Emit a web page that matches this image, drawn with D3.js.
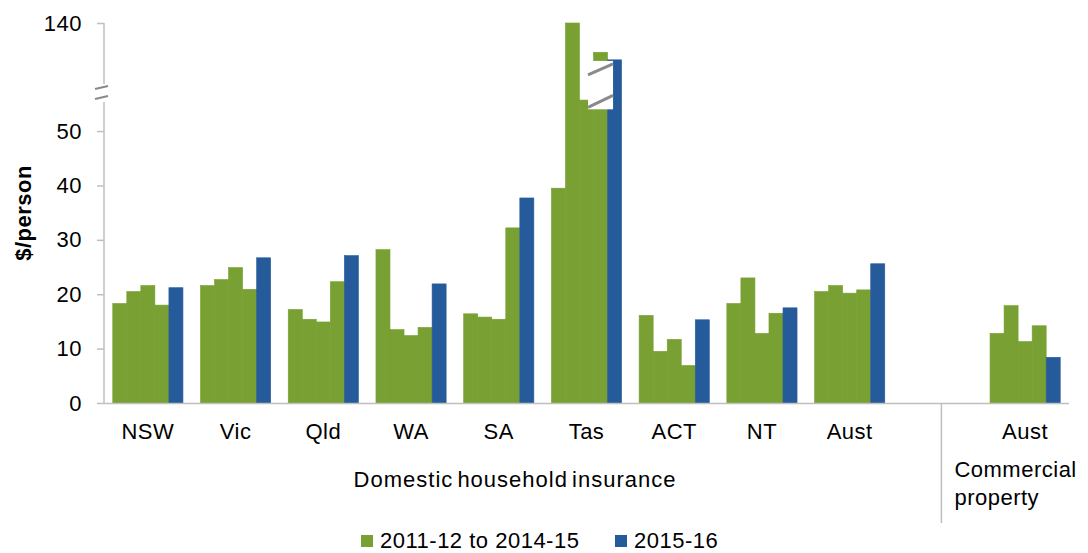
<!DOCTYPE html>
<html>
<head>
<meta charset="utf-8">
<script src="https://cdn.jsdelivr.net/npm/d3@7"></script>
<style>
  body { margin: 0; background: #fff; }
  text { font-family: 'Liberation Sans', Arial, sans-serif; fill: #000; }
</style>
</head>
<body>
<div id="chart"></div>
<script>
const categories = ['NSW', 'Vic', 'Qld', 'WA', 'SA', 'Tas', 'ACT', 'NT', 'Aust', '', 'Aust']
const keys = categories.map((c, i) => i)

// 2011-12 to 2014-15 (four green bars) and 2015-16 (blue)
const v2011_12 = [18.3, 21.6, 17.2, 28.2, 16.4, 39.5, 16.1, 18.3, 20.5, null, 12.8]
const v2012_13 = [20.5, 22.7, 15.4, 13.5, 15.8, 140.5, 9.5, 23.0, 21.6, null, 17.9]
const v2013_14 = [21.6, 24.9, 14.9, 12.4, 15.4, 55.7, 11.7, 12.8, 20.2, null, 11.3]
const v2014_15 = [18.0, 20.9, 22.3, 13.9, 32.2, 134.6, 6.9, 16.5, 20.8, null, 14.2]
const v2015_16 = [21.2, 26.7, 27.1, 21.9, 37.7, 133.2, 15.3, 17.5, 25.6, null, 8.4]

const yTicks = [0, 10, 20, 30, 40, 50, 140]
const legendLabels = ['2011-12 to 2014-15', '2015-16']

const green = '#78a033'
const blue = '#265b9b'
const axisColor = '#bfbfbf'

const series = [v2011_12, v2012_13, v2013_14, v2014_15, v2015_16]
const seriesColor = [green, green, green, green, blue]

const width = 1088
const height = 553

const svg = d3.select('#chart').append('svg')
  .attr('width', width)
  .attr('height', height)

const x = d3.scaleBand()
  .domain(keys)
  .range([104, 1069])
  .paddingInner(0.2)
  .paddingOuter(0.1)

const x1 = d3.scaleBand()
  .domain(d3.range(series.length))
  .range([0, x.bandwidth()])

// broken axis: 0-57 linear, 57-128 squeezed into the break, 128-140 on top
const y = d3.scaleLinear()
  .domain([0, 57, 128, 140])
  .range([403, 93, 88, 23])
  .clamp(true)

// bars
series.forEach((vals, si) => {
  svg.append('g')
    .selectAll('rect')
    .data(keys.filter(k => vals[k] != null))
    .enter().append('rect')
    .attr('x', k => x(k) + x1(si))
    .attr('width', x1.bandwidth())
    .attr('y', k => y(vals[k]))
    .attr('height', k => y(0) - y(vals[k]))
    .attr('fill', seriesColor[si])
    .attr('stroke', seriesColor[si])
    .attr('stroke-width', 0.6)
})

// break marker over the Tas bars
const tas = 5
const bx = x(tas) + x1(2) + 8.5
const bw = x(tas) + x1(4) + 5.5 - bx
svg.append('rect')
  .attr('x', bx).attr('y', y(133))
  .attr('width', bw).attr('height', y(54) - y(133))
  .attr('fill', '#fff')
svg.append('line')
  .attr('x1', bx).attr('y1', y(133) + 14)
  .attr('x2', bx + bw).attr('y2', y(133) + 3)
  .attr('stroke', '#8a8a8a').attr('stroke-width', 3)
svg.append('line')
  .attr('x1', bx).attr('y1', y(54) - 2)
  .attr('x2', bx + bw).attr('y2', y(54) - 14)
  .attr('stroke', '#8a8a8a').attr('stroke-width', 3)

// y axis
const yAxis = g => g
  .attr('transform', `translate(${x.range()[0]},0)`)
  .call(d3.axisLeft(y).tickValues(yTicks).tickSize(7).tickPadding(15).tickFormat(d3.format('d')))
  .call(g => g.select('.domain').attr('stroke', axisColor).attr('stroke-width', 1.5)
    .attr('d', `M0,${y(0)}V${y(140)}`))
  .call(g => g.selectAll('.tick line').attr('stroke', axisColor).attr('stroke-width', 1.5))
  .call(g => g.selectAll('.tick text')
    .attr('font-size', '22px')
    .attr('letter-spacing', '0.5px')
    .attr('fill', '#000')
    .attr('font-family', "'Liberation Sans', Arial, sans-serif"))

svg.append('g').call(yAxis)

// axis break marks
svg.append('rect')
  .attr('x', 93).attr('y', 84).attr('width', 20).attr('height', 18)
  .attr('fill', '#fff')
svg.append('line')
  .attr('x1', 95).attr('y1', 89).attr('x2', 108).attr('y2', 86)
  .attr('stroke', '#8a8a8a').attr('stroke-width', 2.2)
svg.append('line')
  .attr('x1', 95).attr('y1', 99).attr('x2', 108).attr('y2', 96)
  .attr('stroke', '#8a8a8a').attr('stroke-width', 2.2)

// x axis line
svg.append('line')
  .attr('x1', x.range()[0]).attr('x2', x.range()[1])
  .attr('y1', y(0) + 0.5).attr('y2', y(0) + 0.5)
  .attr('stroke', axisColor).attr('stroke-width', 1.5)

// category labels
svg.append('g')
  .selectAll('text')
  .data(keys)
  .enter().append('text')
  .attr('x', k => x(k) + x.bandwidth() / 2)
  .attr('y', 439)
  .attr('text-anchor', 'middle')
  .attr('font-size', '22px')
  .attr('letter-spacing', '0.5px')
  .text(k => categories[k])

// group separator and group labels
const sepX = x(9) + x.bandwidth() / 2 + 4
svg.append('line')
  .attr('x1', sepX).attr('x2', sepX)
  .attr('y1', y(0)).attr('y2', 523)
  .attr('stroke', axisColor).attr('stroke-width', 1.5)

svg.append('text')
  .attr('x', 515).attr('y', 487)
  .attr('text-anchor', 'middle')
  .attr('font-size', '22px')
  .attr('letter-spacing', '1px')
  .attr('word-spacing', '-3px')
  .text('Domestic household insurance')

svg.append('text')
  .attr('x', sepX + 13).attr('y', 477)
  .attr('font-size', '22px')
  .attr('letter-spacing', '0.5px')
  .text('Commercial')
svg.append('text')
  .attr('x', sepX + 13).attr('y', 505)
  .attr('font-size', '22px')
  .attr('letter-spacing', '0.5px')
  .text('property')

// y title
svg.append('text')
  .attr('transform', 'translate(31,213) rotate(-90)')
  .attr('text-anchor', 'middle')
  .attr('font-size', '22px')
  .attr('font-weight', 'bold')
  .attr('letter-spacing', '0.5px')
  .text('$/person')

// legend
const legend = svg.append('g')
const legendX = [361, 615]
legendLabels.forEach((lab, i) => {
  legend.append('rect')
    .attr('x', legendX[i]).attr('y', 535)
    .attr('width', 12).attr('height', 12)
    .attr('fill', i === 0 ? green : blue)
  legend.append('text')
    .attr('x', legendX[i] + 19).attr('y', 548)
    .attr('font-size', '22px')
    .attr('letter-spacing', '0.5px')
    .text(lab)
})
</script>
</body>
</html>
